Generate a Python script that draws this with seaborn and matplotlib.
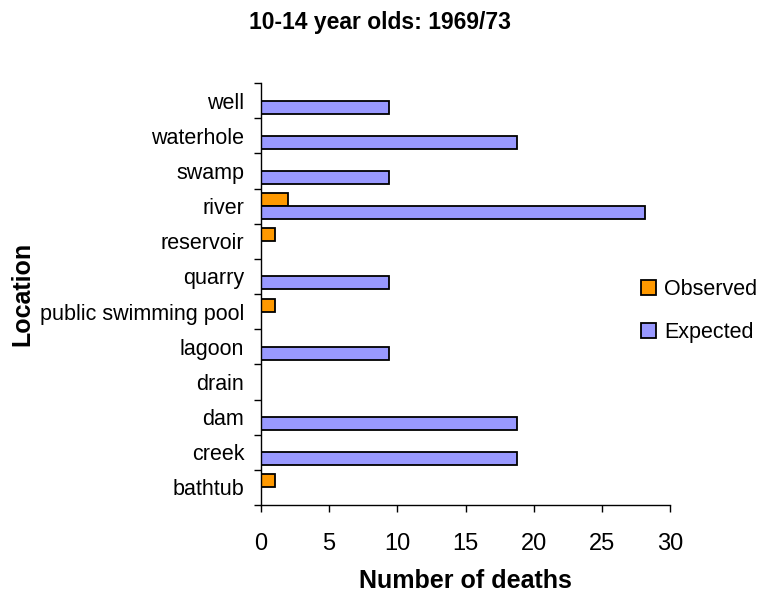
"""
Drowning deaths by location, 10-14 year olds, 1969/73
Observed vs expected counts as horizontal grouped bars.
"""

import numpy as np
import pandas as pd
import matplotlib
matplotlib.use("Agg")
import matplotlib.pyplot as plt
import seaborn as sns

# ─────────────────────────────────────────────
# Data (top of chart first)
# ─────────────────────────────────────────────
locations = ["well", "waterhole", "swamp", "river", "reservoir", "quarry",
             "public swimming pool", "lagoon", "drain", "dam", "creek", "bathtub"]
observed  = [0, 0, 0, 2, 1, 0, 1, 0, 0, 0, 0, 1]
expected  = [9.4, 18.8, 9.4, 28.2, 0, 9.4, 0, 9.4, 0, 18.8, 18.8, 0]
series    = ["Observed", "Expected"]
colors    = ["#FF9900", "#9999FF"]
x_ticks   = [0, 5, 10, 15, 20, 25, 30]

df = pd.DataFrame({
    "Location": locations * 2,
    "Series":   ["Observed"] * len(locations) + ["Expected"] * len(locations),
    "Deaths":   observed + expected,
})
# zero bars are not drawn in the original
df = df[df["Deaths"] > 0]

# ─────────────────────────────────────────────
# Plot
# ─────────────────────────────────────────────
sns.set_style("white")
plt.rcParams["font.family"] = ["Liberation Sans", "DejaVu Sans"]
plt.rcParams["text.color"] = "black"
plt.rcParams["axes.labelcolor"] = "black"
plt.rcParams["xtick.color"] = "black"
plt.rcParams["ytick.color"] = "black"

fig = plt.figure(figsize=(7.6, 5.98), dpi=100)
ax = fig.add_axes([261 / 760, 1 - 505 / 598, (670 - 261) / 760, (505 - 83) / 598])

sns.barplot(data=df, x="Deaths", y="Location", hue="Series",
            order=locations, hue_order=series, palette=colors,
            orient="h", width=0.74, edgecolor="black", linewidth=1.3,
            saturation=1, ax=ax)

ax.set_xlim(0, 30)
ax.set_ylim(len(locations) - 0.5, -0.5)
ax.set_xticks(x_ticks)
ax.set_xticklabels([str(t) for t in x_ticks], fontsize=17)

# labels in the middle of each band, tick marks on the band edges
ax.set_yticks(range(len(locations)))
ax.set_yticklabels(locations, fontsize=15.5)
ax.set_yticks(np.arange(-0.5, len(locations), 1.0), minor=True)
ax.tick_params(axis="y", which="major", left=False, length=0, pad=12)
ax.tick_params(axis="y", which="minor", left=True, length=5, width=1, direction="out")
ax.tick_params(axis="x", which="major", bottom=True, length=5, width=1, direction="out", pad=15)

for side in ["top", "right"]:
    ax.spines[side].set_visible(False)
for side in ["left", "bottom"]:
    ax.spines[side].set_color("black")
    ax.spines[side].set_linewidth(1)

ax.set_xlabel("Number of deaths", fontsize=18, fontweight="bold", labelpad=10)
ax.set_ylabel("Location", fontsize=18, fontweight="bold", labelpad=4)
fig.text(0.5, 1 - 23 / 598, "10-14 year olds: 1969/73",
         ha="center", va="center", fontsize=16.5, fontweight="bold")

handles, labels = ax.get_legend_handles_labels()
ax.legend(handles, labels, loc="center left", bbox_to_anchor=(626 / 760, 1 - 311 / 598),
          bbox_transform=fig.transFigure, frameon=False, fontsize=15.5,
          handlelength=0.68, handleheight=0.68, handletextpad=0.4, labelspacing=1.0,
          borderpad=0.2)

fig.savefig("out.png", dpi=100)
